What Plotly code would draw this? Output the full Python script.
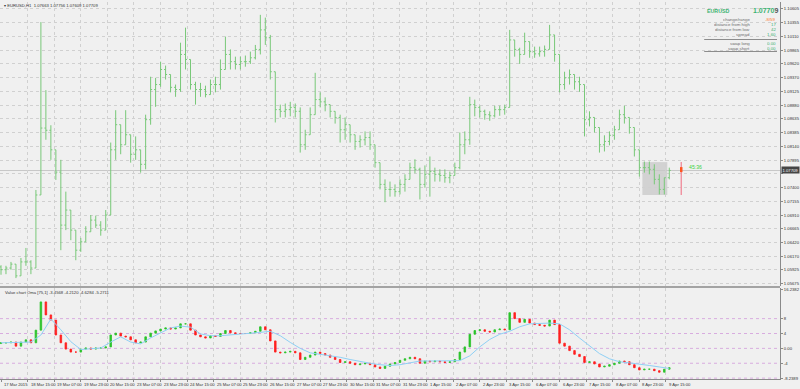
import plotly.graph_objects as go

# ---------------- data ----------------
bar_hour = list(range(0, 405, 3))  # one bar every 3 hours (H1 index)

first_open = 1.0598
highs = [1.0601, 1.0600, 1.0607, 1.0603, 1.0614, 1.0632, 1.0610, 1.0736, 1.1037, 1.0915,
         1.0852, 1.0808, 1.0790, 1.0733, 1.0700, 1.0664, 1.0650, 1.0671, 1.0691, 1.0690,
         1.0680, 1.0700, 1.0821, 1.0879, 1.0853, 1.0879, 1.0835, 1.0832, 1.0808, 1.0871,
         1.0939, 1.0937, 1.0966, 1.0959, 1.0943, 1.0925, 1.1000, 1.1027, 1.0970, 1.0930,
         1.0928, 1.0923, 1.0934, 1.0939, 1.0970, 1.1011, 1.0988, 1.0975, 1.0975, 1.0977,
         1.0984, 1.0996, 1.1050, 1.1045, 1.1014, 1.0948, 1.0889, 1.0891, 1.0894, 1.0891,
         1.0884, 1.0844, 1.0884, 1.0946, 1.0911, 1.0902, 1.0889, 1.0877, 1.0871, 1.0866,
         1.0853, 1.0835, 1.0834, 1.0841, 1.0841, 1.0817, 1.0785, 1.0755, 1.0751, 1.0746,
         1.0755, 1.0764, 1.0785, 1.0791, 1.0776, 1.0780, 1.0796, 1.0776, 1.0773, 1.0773,
         1.0769, 1.0785, 1.0839, 1.0841, 1.0903, 1.0898, 1.0887, 1.0880, 1.0877, 1.0887,
         1.0887, 1.0889, 1.1023, 1.1005, 1.0991, 1.1018, 1.1002, 1.0993, 1.0993, 1.0995,
         1.1032, 1.1014, 1.0979, 1.0948, 1.0952, 1.0943, 1.0939, 1.0925, 1.0877, 1.0866,
         1.0848, 1.0834, 1.0841, 1.0851, 1.0880, 1.0887, 1.0866, 1.0848, 1.0808, 1.0787,
         1.0787, 1.0782, 1.0764, 1.0758, 1.0776]
lows = [1.0584, 1.0585, 1.0593, 1.0578, 1.0589, 1.0600, 1.0585, 1.0607, 1.0727, 1.0826,
        1.0790, 1.0754, 1.0628, 1.0664, 1.0646, 1.0610, 1.0625, 1.0643, 1.0661, 1.0668,
        1.0654, 1.0664, 1.0691, 1.0790, 1.0800, 1.0817, 1.0785, 1.0790, 1.0767, 1.0773,
        1.0853, 1.0885, 1.0921, 1.0934, 1.0911, 1.0903, 1.0912, 1.0952, 1.0916, 1.0889,
        1.0903, 1.0902, 1.0907, 1.0911, 1.0916, 1.0952, 1.0952, 1.0952, 1.0952, 1.0957,
        1.0962, 1.0970, 1.0979, 1.0996, 1.0934, 1.0857, 1.0866, 1.0866, 1.0868, 1.0866,
        1.0803, 1.0808, 1.0835, 1.0871, 1.0884, 1.0877, 1.0866, 1.0855, 1.0821, 1.0826,
        1.0821, 1.0808, 1.0812, 1.0816, 1.0808, 1.0776, 1.0737, 1.0714, 1.0724, 1.0724,
        1.0728, 1.0733, 1.0755, 1.0766, 1.0719, 1.0740, 1.0724, 1.0751, 1.0751, 1.0749,
        1.0748, 1.0762, 1.0773, 1.0800, 1.0817, 1.0868, 1.0866, 1.0862, 1.0860, 1.0866,
        1.0869, 1.0871, 1.0884, 1.0975, 1.0962, 1.0979, 1.0973, 1.0973, 1.0975, 1.0975,
        1.0988, 1.0966, 1.0911, 1.0916, 1.0925, 1.0916, 1.0912, 1.0832, 1.0850, 1.0839,
        1.0803, 1.0805, 1.0816, 1.0826, 1.0844, 1.0855, 1.0837, 1.0796, 1.0760, 1.0767,
        1.0764, 1.0746, 1.0728, 1.0728, 1.0755]
closes = [1.0593, 1.0596, 1.0603, 1.0582, 1.0607, 1.0607, 1.0596, 1.0727, 1.0847, 1.0843,
          1.0808, 1.0768, 1.0673, 1.0700, 1.0664, 1.0628, 1.0643, 1.0661, 1.0682, 1.0673,
          1.0664, 1.0691, 1.0808, 1.0853, 1.0817, 1.0835, 1.0800, 1.0808, 1.0782, 1.0862,
          1.0916, 1.0925, 1.0952, 1.0943, 1.0920, 1.0916, 1.0979, 1.0970, 1.0925, 1.0916,
          1.0916, 1.0907, 1.0925, 1.0925, 1.0952, 1.0979, 1.0966, 1.0961, 1.0966, 1.0966,
          1.0973, 1.0988, 1.1023, 1.1009, 1.0948, 1.0880, 1.0877, 1.0880, 1.0884, 1.0877,
          1.0817, 1.0835, 1.0871, 1.0898, 1.0894, 1.0889, 1.0877, 1.0866, 1.0844, 1.0853,
          1.0835, 1.0823, 1.0826, 1.0830, 1.0817, 1.0785, 1.0746, 1.0737, 1.0737, 1.0733,
          1.0746, 1.0755, 1.0776, 1.0773, 1.0746, 1.0764, 1.0769, 1.0764, 1.0762, 1.0758,
          1.0762, 1.0776, 1.0817, 1.0826, 1.0889, 1.0884, 1.0877, 1.0871, 1.0869, 1.0880,
          1.0880, 1.0884, 1.1005, 1.0988, 1.0979, 1.1002, 1.0984, 1.0980, 1.0984, 1.0988,
          1.1014, 1.0979, 1.0925, 1.0937, 1.0943, 1.0930, 1.0925, 1.0862, 1.0866, 1.0848,
          1.0817, 1.0823, 1.0834, 1.0844, 1.0871, 1.0866, 1.0848, 1.0808, 1.0776, 1.0776,
          1.0773, 1.0755, 1.0737, 1.0758, 1.0771]

value_first_open = 1.3
value_close = [1.5, 1.5, 1.7, 0.6, 1.7, 2.3, 1.5, 4.9, 12.5, 9.0,
               7.6, 3.6, 1.5, -0.2, -1.0, -1.0, -0.2, 0.1, -0.2, 0.1,
               0.1, 0.4, 3.6, 4.1, 3.3, 3.1, 2.3, 1.5, 1.7, 3.1,
               4.1, 4.7, 5.2, 5.5, 5.2, 5.5, 6.6, 6.6, 4.9, 3.6,
               3.1, 2.8, 3.4, 3.2, 4.0, 4.8, 4.2, 4.0, 4.0, 4.0,
               4.2, 4.6, 5.8, 5.0, 2.0, -1.0, -1.2, -1.0, -0.8, -1.2,
               -3.0, -2.4, -1.8, -1.0, -1.4, -1.8, -2.4, -3.0, -3.8, -3.6,
               -4.0, -4.4, -4.2, -4.0, -4.4, -5.0, -5.4, -4.8, -4.2, -3.8,
               -3.2, -2.8, -2.4, -2.8, -4.0, -3.4, -3.6, -3.4, -3.6, -3.8,
               -3.6, -3.0, -1.0, 0.4, 3.8, 4.8, 5.0, 4.6, 4.4, 5.0,
               5.2, 5.0, 9.6, 8.0, 7.0, 7.8, 6.8, 6.4, 6.2, 6.0,
               7.6, 6.4, 1.4, 0.6, -0.6, -1.6, -2.2, -3.8, -3.6, -4.2,
               -5.0, -4.8, -4.4, -4.0, -3.4, -3.6, -4.4, -5.2, -5.8, -5.6,
               -5.6, -6.0, -6.4, -5.6, -5.2]
value_ma_hour = bar_hour[::2]
value_ma = [1.5, 1.5, 1.5, 1.7, 3.6, 7.9, 5.0, 1.8, -0.3, -0.2,
            0.1, 1.7, 3.1, 1.7, 1.2, 2.8, 4.1, 5.5, 6.0, 5.7,
            3.9, 3.4, 3.4, 3.6, 3.9, 4.0, 4.3, 4.6, 3.4, 1.6,
            0.0, -1.2, -1.6, -1.8, -2.4, -3.0, -3.6, -4.0, -4.4, -4.6,
            -4.4, -3.8, -3.4, -3.4, -3.4, -3.5, -3.3, -2.0, 0.4, 2.4,
            3.8, 4.6, 5.8, 6.6, 6.8, 6.8, 6.6, 5.0, 2.8, 0.6,
            -1.4, -2.8, -3.6, -3.9, -4.2, -4.6, -5.0, -5.4]
value_levels = [8, 4, 0, -4, -8]

time_tick_hours = list(range(0, 401, 16))
time_tick_labels = ["17 Mar 2015", "18 Mar 15:00", "19 Mar 07:00", "19 Mar 23:00", "20 Mar 15:00",
                    "23 Mar 07:00", "23 Mar 23:00", "24 Mar 15:00", "25 Mar 07:00", "25 Mar 23:00",
                    "26 Mar 15:00", "27 Mar 07:00", "27 Mar 23:00", "30 Mar 15:00", "31 Mar 07:00",
                    "31 Mar 23:00", "1 Apr 15:00", "2 Apr 07:00", "2 Apr 23:00", "3 Apr 15:00",
                    "6 Apr 07:00", "6 Apr 23:00", "7 Apr 15:00", "8 Apr 07:00", "8 Apr 23:00",
                    "9 Apr 15:00"]

price_ticks = [1.10605, 1.10355, 1.10110, 1.09865, 1.09620, 1.09370, 1.09125, 1.08880,
               1.08635, 1.08385, 1.08140, 1.07895, 1.07650, 1.07400, 1.07155, 1.06910,
               1.06665, 1.06420, 1.06170, 1.05925, 1.05675]
price_tick_labels = ["1.10605", "1.10355", "1.10110", "1.09865", "1.09620", "1.09370", "1.09125",
                     "1.08880", "1.08635", "1.08385", "1.08140", "1.07895", "", "1.07400",
                     "1.07155", "1.06910", "1.06665", "1.06420", "1.06170", "1.05925", "1.05675"]
value_ticks = [15.8, 8, 4, 0, -4, -8.1]
value_tick_labels = ["16.2382", "8", "4", "0.00", "-4", "-8.2389"]

last_price = 1.07709
range_box_hours = [385.8, 400.8]
range_box_prices = [1.0727, 1.0786]
timer_bar_hour = 409.2
timer_body = [1.0768, 1.0777]
timer_text = "45:36"

title_text = "EURUSD,H1  1.07663 1.07756 1.07609 1.07709"
sub_title = "Value chart Oma [75,1] -3.4568 -4.2120 -4.6284 -5.2711"
panel_labels = ["change/range", "distance from high", "distance from low", "spread",
                "swap long", "swap short"]
panel_values = ["-8/59", "17", "42", "1.60", "0.00", "0.00"]

# ---------------- derived bars ----------------
opens = [first_open] + closes[:-1]
hi = [max(h, o, c) for h, o, c in zip(highs, opens, closes)]
lo = [min(l, o, c) for l, o, c in zip(lows, opens, closes)]
v_open = [value_first_open] + value_close[:-1]
v_hi = [max(o, c) for o, c in zip(v_open, value_close)]
v_lo = [min(o, c) for o, c in zip(v_open, value_close)]

# ---------------- layout helpers ----------------
W, H = 800, 389
ML, MR, MT, MB = 0, 18, 2, 10
PW = W - ML - MR
PH = H - MT - MB
def pxx(x):
    return (x - ML) / PW
def pxy(y):
    return (H - MB - y) / PH

BG = "#f0f0f0"
GRID = "#d0d0d0"
BARG = "#78c878"
FONT = "Liberation Sans"
GREEN_TXT = "#3cb371"

fig = go.Figure()
fig.add_trace(go.Ohlc(x=bar_hour, open=opens, high=hi, low=lo, close=closes,
                      increasing=dict(line=dict(color=BARG, width=1)),
                      decreasing=dict(line=dict(color=BARG, width=1)),
                      tickwidth=0.3, xaxis="x", yaxis="y", showlegend=False, hoverinfo="skip"))
fig.add_trace(go.Candlestick(x=bar_hour, open=v_open, high=v_hi, low=v_lo, close=value_close,
                             increasing=dict(line=dict(color="#2cc42c", width=0.8), fillcolor="#2cc42c"),
                             decreasing=dict(line=dict(color="#ff2020", width=0.8), fillcolor="#ff2020"),
                             whiskerwidth=0, xaxis="x2", yaxis="y2", showlegend=False, hoverinfo="skip"))
fig.add_trace(go.Scatter(x=value_ma_hour, y=value_ma, mode="lines",
                         line=dict(color="#8fd0f5", width=1), xaxis="x2", yaxis="y2",
                         showlegend=False, hoverinfo="skip"))

xcommon = dict(range=[-0.6, 468.6], tickvals=time_tick_hours, showticklabels=False,
               showgrid=True, gridcolor=GRID, griddash="dot", gridwidth=1, zeroline=False,
               rangeslider=dict(visible=False), fixedrange=True)

shapes = []
shapes.append(dict(type="rect", xref="x", yref="y", x0=range_box_hours[0], x1=range_box_hours[1],
                   y0=range_box_prices[0], y1=range_box_prices[1],
                   fillcolor="rgba(200,200,200,0.75)", line=dict(width=0), layer="below"))
shapes.append(dict(type="line", xref="paper", yref="y", x0=0, x1=1, y0=last_price, y1=last_price,
                   line=dict(color="#c8c8c8", width=1), layer="below"))
shapes.append(dict(type="line", xref="x", yref="y", x0=timer_bar_hour, x1=timer_bar_hour,
                   y0=range_box_prices[0], y1=range_box_prices[1], line=dict(color="#f08898", width=1.3)))
shapes.append(dict(type="line", xref="x", yref="y", x0=timer_bar_hour, x1=timer_bar_hour,
                   y0=timer_body[0], y1=timer_body[1], line=dict(color="#ff5520", width=2.5)))
shapes.append(dict(type="line", xref="paper", yref="paper", x0=0, x1=1, y0=pxy(287), y1=pxy(287),
                   line=dict(color="#a3a3a3", width=2)))
for lv in value_levels:
    shapes.append(dict(type="line", xref="paper", yref="y2", x0=0, x1=1, y0=lv, y1=lv,
                       line=dict(color="#d8acdf", width=1, dash="dot"), layer="below"))
for yy in (39.5, 51.5):
    shapes.append(dict(type="line", xref="paper", yref="paper", x0=pxx(706), x1=pxx(779),
                       y0=pxy(yy), y1=pxy(yy), line=dict(color="#8c8c8c", width=1)))

ann = []
for h_, lab in zip(time_tick_hours, time_tick_labels):
    ann.append(dict(x=h_, xref="x2", y=pxy(384.5), yref="paper", text=lab, showarrow=False,
                    xanchor="left", yanchor="middle", xshift=1,
                    font=dict(size=4.2, color="#333333", family=FONT)))
ann.append(dict(x=pxx(2), xref="paper", y=pxy(6), yref="paper", text="▾ " + title_text,
                showarrow=False, xanchor="left", yanchor="middle",
                font=dict(size=4.2, color="#333333", family=FONT)))
ann.append(dict(x=pxx(3), xref="paper", y=pxy(292), yref="paper", text=sub_title,
                showarrow=False, xanchor="left", yanchor="middle",
                font=dict(size=4.2, color="#333333", family=FONT)))
ann.append(dict(x=1, xref="paper", y=last_price, yref="y", text="%.5f" % last_price,
                showarrow=False, xanchor="left", yanchor="middle", xshift=1, bgcolor="#454545",
                borderpad=0.5, font=dict(size=4.2, color="#ffffff", family=FONT)))
ann.append(dict(x=timer_bar_hour, xref="x", y=pxy(167), yref="paper", text=timer_text,
                showarrow=False, xanchor="left", yanchor="middle", xshift=6,
                font=dict(size=5.2, color="#3cd23c", family=FONT)))
# info panel
ann.append(dict(x=pxx(707), xref="paper", y=pxy(10.5), yref="paper", text="<b>EURUSD</b>",
                showarrow=False, xanchor="left", yanchor="middle",
                font=dict(size=5.3, color=GREEN_TXT, family=FONT)))
price_str = "%.5f" % last_price
ann.append(dict(x=pxx(781), xref="paper", y=pxy(10.5), yref="paper",
                text="<b>" + price_str[:-1] + "</b><span style='color:#555555'><b>" + price_str[-1] + "</b></span>",
                showarrow=False, xanchor="right", yanchor="middle", borderpad=0,
                font=dict(size=7.0, color=GREEN_TXT, family=FONT)))
panel_y = [19.2, 24.2, 29.2, 34.2, 43.6, 48.6]
for lab, val, yy in zip(panel_labels, panel_values, panel_y):
    ann.append(dict(x=pxx(752.5), xref="paper", y=pxy(yy), yref="paper", text=lab, showarrow=False,
                    xanchor="right", yanchor="middle", borderpad=0, height=4.8,
                    font=dict(size=4.4, color="#6e6e6e", family=FONT)))
    col = "#ff7b2a" if val.startswith("-") else GREEN_TXT
    ann.append(dict(x=pxx(779), xref="paper", y=pxy(yy), yref="paper", text=val, showarrow=False,
                    xanchor="right", yanchor="middle", borderpad=0, height=4.8,
                    font=dict(size=4.4, color=col, family=FONT)))

fig.update_layout(
    width=W, height=H, margin=dict(l=ML, r=MR, t=MT, b=MB),
    paper_bgcolor=BG, plot_bgcolor=BG, showlegend=False, boxgap=0.55,
    font=dict(family=FONT, size=4.2, color="#333333"),
    xaxis=dict(domain=[0, 1], anchor="y", **xcommon),
    xaxis2=dict(domain=[0, 1], anchor="y2", showline=True, linecolor="#8a8a8a", linewidth=1,
                ticks="outside", ticklen=2, tickcolor="#8a8a8a", **xcommon),
    yaxis=dict(domain=[pxy(286), 1], anchor="x", side="right", range=[1.05638, 1.10730],
               tickvals=price_ticks, ticktext=price_tick_labels, showgrid=True, gridcolor=GRID,
               griddash="dot", zeroline=False, showline=True, linecolor="#8a8a8a", linewidth=1,
               ticks="outside", ticklen=2, tickcolor="#8a8a8a",
               tickfont=dict(size=4.2, color="#333333", family=FONT), fixedrange=True),
    yaxis2=dict(domain=[0, pxy(288)], anchor="x2", side="right", range=[-8.2389, 16.2382],
                tickvals=value_ticks, ticktext=value_tick_labels, showgrid=False, zeroline=False,
                showline=True, linecolor="#8a8a8a", linewidth=1, ticks="outside", ticklen=2,
                tickcolor="#8a8a8a", tickfont=dict(size=4.2, color="#333333", family=FONT),
                fixedrange=True),
    shapes=shapes, annotations=ann,
)

fig.write_html("out.html", config={"displayModeBar": False})
